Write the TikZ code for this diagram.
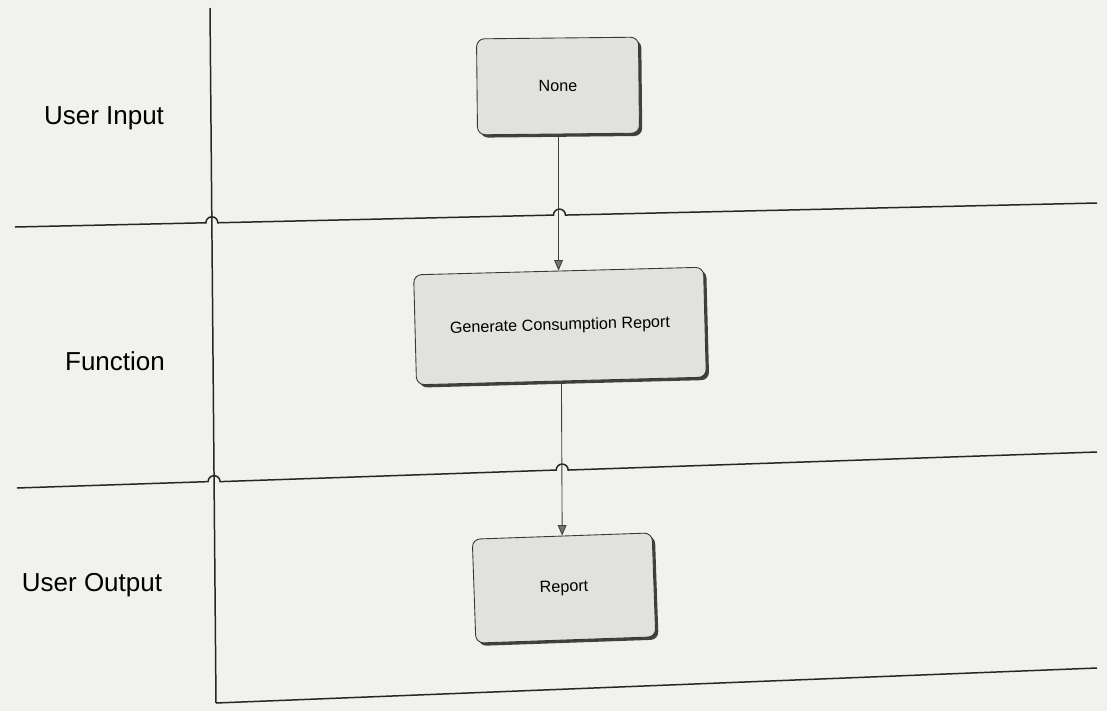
\documentclass[tikz,border=0pt]{standalone}
\usepackage{fontspec}
\setmainfont{Liberation Sans}
\usetikzlibrary{arrows.meta,shadows}
\definecolor{paper}{RGB}{241,241,238}
\definecolor{boxfill}{RGB}{225,225,222}
\definecolor{edge}{RGB}{55,55,55}
\begin{document}
\begin{tikzpicture}[x=0.02cm,y=-0.02cm,
  lane/.style={line width=0.85pt, draw=black!85},
  proc/.style={draw=edge, line width=0.5pt, fill=boxfill, rounded corners=4.5pt,
    font=\fontsize{9.2}{11}\selectfont, align=center, inner sep=0pt,
    drop shadow={shadow xshift=1.6pt, shadow yshift=-1.6pt, fill=black!75, opacity=1}},
  lbl/.style={font=\fontsize{14.8}{17}\selectfont, inner sep=0pt},
  flow/.style={draw=black!75, line width=0.5pt, -{Triangle[length=6pt,width=5pt,fill=black!55]}}]
\fill[paper] (0,0) rectangle (1107,711);
\useasboundingbox (0,0) rectangle (1107,711);

% swimlane separators
\draw[lane] (210,8) -- (216,703);
\draw[lane] (15,227) -- (205.9,222.77) arc[start angle=180,end angle=0,radius=3.4pt]
  -- (553.5,215.06) arc[start angle=180,end angle=0,radius=3.4pt] -- (1097,203);
\draw[lane] (17,488) -- (208.1,481.63) arc[start angle=180,end angle=0,radius=3.4pt]
  -- (556.2,470.03) arc[start angle=180,end angle=0,radius=3.4pt] -- (1097,452);
\draw[lane] (216,703) -- (1097,668);

% lane labels
\node[lbl] (lin) at (104,118) {User Input};
\node[lbl] (lfn) at (115,361) {Function};
\node[lbl] (lout) at (92,585) {User Output};

% process boxes
\node[proc, minimum width=3.24cm, minimum height=1.92cm, rotate=0.6] (none) at (558,86) {None};
\node[proc, minimum width=5.8cm, minimum height=2.2cm, rotate=1.5] (gen) at (560,326) {Generate Consumption Report};
\node[proc, minimum width=3.6cm, minimum height=2.08cm, rotate=2] (rep) at (564,588) {Report};

% flows
\draw[flow] (none.south) -- (gen.north);
\draw[flow] (gen.south) -- (rep.north);
\end{tikzpicture}
\end{document}
